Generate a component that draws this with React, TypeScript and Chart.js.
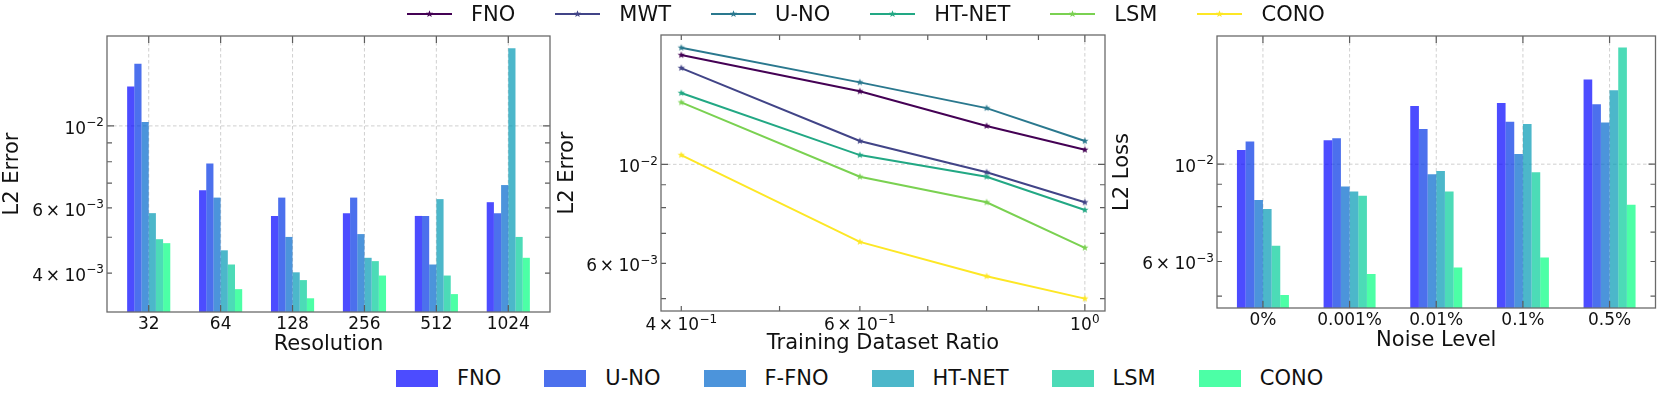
import React, { useEffect, useRef } from 'react';
import { Chart, registerables } from 'chart.js';
Chart.register(...registerables);

// ---------- data ----------
const resolutions = ['32', '64', '128', '256', '512', '1024'];
const barModels = ['FNO', 'U-NO', 'F-FNO', 'HT-NET', 'LSM', 'CONO'];
const resFNO = [0.01277, 0.0067, 0.00571, 0.00581, 0.00571, 0.00622];
const resUNO = [0.01472, 0.00791, 0.0064, 0.0064, 0.00571, 0.00581];
const resFFNO = [0.01025, 0.0064, 0.00501, 0.0051, 0.00422, 0.00692];
const resHTNET = [0.00581, 0.00461, 0.00402, 0.0044, 0.00634, 0.01622];
const resLSM = [0.00494, 0.00422, 0.00383, 0.00431, 0.00394, 0.00501];
const resCONO = [0.00482, 0.00362, 0.00342, 0.00394, 0.00351, 0.0044];

const ratios = [0.4, 0.6, 0.8, 1.0];
const lineModels = ['FNO', 'MWT', 'U-NO', 'HT-NET', 'LSM', 'CONO'];
const ratioFNO = [0.01758, 0.01458, 0.01219, 0.01078];
const ratioMWT = [0.01644, 0.01128, 0.0096, 0.00822];
const ratioUNO = [0.01826, 0.01527, 0.01337, 0.01128];
const ratioHTNET = [0.01445, 0.01049, 0.00938, 0.0079];
const ratioLSM = [0.01377, 0.00938, 0.00822, 0.0065];
const ratioCONO = [0.01049, 0.0067, 0.00561, 0.005];

const noiseLevels = ['0%', '0.001%', '0.01%', '0.1%', '0.5%'];
const noiseFNO = [0.01078, 0.01134, 0.01358, 0.01379, 0.01559];
const noiseUNO = [0.01126, 0.01146, 0.01203, 0.0125, 0.0137];
const noiseFFNO = [0.00829, 0.00889, 0.00949, 0.01055, 0.01244];
const noiseHTNET = [0.0079, 0.00866, 0.00965, 0.01235, 0.01475];
const noiseLSM = [0.00652, 0.00847, 0.00866, 0.00959, 0.01844];
const noiseCONO = [0.00503, 0.00562, 0.00581, 0.00613, 0.00808];

// tick values / labels ("^" marks a superscript exponent)
const resYTicks = [0.004, 0.005, 0.006, 0.007, 0.008, 0.009, 0.01];
const resYLabels = ['4×10^−3', '', '6×10^−3', '', '', '', '10^−2'];
const ratioYTicks = [0.005, 0.006, 0.007, 0.008, 0.009, 0.01];
const ratioYLabels = ['', '6×10^−3', '', '', '', '10^−2'];
const ratioXTicks = [0.4, 0.5, 0.6, 0.7, 0.8, 0.9, 1.0];
const ratioXLabels = ['4×10^−1', '', '6×10^−1', '', '', '', '10^0'];
const noiseYTicks = [0.005, 0.006, 0.007, 0.008, 0.009, 0.01];
const noiseYLabels = ['', '6×10^−3', '', '', '', '10^−2'];

// ---------- style ----------
const FONT = "'DejaVu Sans', sans-serif";
const TXT = '#111';
const MAIN_PX = 17;
const SUP_PX = 12;
const SUP_RISE = 7.3;
const viridis = ['#440154', '#414487', '#2a788e', '#22a884', '#7ad151', '#fde725'];
const winter = [
  'rgba(0,0,255,0.7)',
  'rgba(0,51,230,0.7)',
  'rgba(0,102,204,0.7)',
  'rgba(0,153,179,0.7)',
  'rgba(0,204,153,0.7)',
  'rgba(0,255,128,0.7)',
];

function makeStar(color: string, r = 3.8) {
  const size = Math.ceil(r * 2 + 2);
  const c = document.createElement('canvas');
  c.width = size;
  c.height = size;
  const g = c.getContext('2d')!;
  g.fillStyle = color;
  g.beginPath();
  for (let i = 0; i < 10; i++) {
    const ang = -Math.PI / 2 + (i * Math.PI) / 5;
    const rr = i % 2 === 0 ? r : r * 0.42;
    const px = size / 2 + rr * Math.cos(ang);
    const py = size / 2 + rr * Math.sin(ang);
    if (i === 0) g.moveTo(px, py);
    else g.lineTo(px, py);
  }
  g.closePath();
  g.fill();
  return c;
}

type Piece = { t: string; f: number; dy: number; gap: number; w: number };

function labelPieces(ctx: CanvasRenderingContext2D, label: string): Piece[] {
  const [base, sup] = label.split('^');
  const pieces: Piece[] = [];
  if (base.includes('×')) {
    const [m, b] = base.split('×');
    pieces.push({ t: m, f: MAIN_PX, dy: 0, gap: 2.5, w: 0 });
    pieces.push({ t: '×', f: MAIN_PX, dy: 0, gap: 4.5, w: 0 });
    pieces.push({ t: b, f: MAIN_PX, dy: 0, gap: 0.3, w: 0 });
  } else {
    pieces.push({ t: base, f: MAIN_PX, dy: 0, gap: 0.3, w: 0 });
  }
  if (sup !== undefined) pieces.push({ t: sup, f: SUP_PX, dy: -SUP_RISE, gap: 0, w: 0 });
  pieces[pieces.length - 1].gap = 0;
  for (const p of pieces) {
    ctx.font = `${p.f}px ${FONT}`;
    p.w = ctx.measureText(p.t).width;
  }
  return pieces;
}

function drawLabel(ctx: CanvasRenderingContext2D, label: string, x: number, baseline: number, align: 'right' | 'center') {
  if (!label) return;
  const pieces = labelPieces(ctx, label);
  const total = pieces.reduce((s, p) => s + p.w + p.gap, 0);
  let cx = align === 'right' ? x - total : x - total / 2;
  ctx.textAlign = 'left';
  ctx.textBaseline = 'alphabetic';
  ctx.fillStyle = TXT;
  for (const p of pieces) {
    ctx.font = `${p.f}px ${FONT}`;
    ctx.fillText(p.t, cx, baseline + p.dy);
    cx += p.w + p.gap;
  }
}

const axesDecor = {
  id: 'axesDecor',
  beforeDatasetsDraw(chart: any, _a: any, o: any) {
    const { ctx, chartArea: a, scales } = chart;
    const x = scales.x;
    const y = scales.y;
    ctx.save();
    ctx.strokeStyle = 'rgba(185,185,185,0.75)';
    ctx.lineWidth = 0.9;
    ctx.setLineDash([3.5, 2.5]);
    ctx.beginPath();
    for (const v of o.gridX) {
      const p = x.getPixelForValue(v);
      ctx.moveTo(p, a.top);
      ctx.lineTo(p, a.bottom);
    }
    for (const v of o.gridY) {
      const p = y.getPixelForValue(v);
      ctx.moveTo(a.left, p);
      ctx.lineTo(a.right, p);
    }
    ctx.stroke();
    ctx.restore();
  },
  afterDatasetsDraw(chart: any, _a: any, o: any) {
    const { ctx, chartArea: a, scales } = chart;
    const x = scales.x;
    const y = scales.y;
    ctx.save();
    ctx.strokeStyle = '#5c5c5c';
    ctx.lineWidth = 1.2;
    ctx.beginPath();
    const xt = (vals: number[], len: number) => {
      for (const v of vals) {
        const p = x.getPixelForValue(v);
        ctx.moveTo(p, a.bottom);
        ctx.lineTo(p, a.bottom - len);
        ctx.moveTo(p, a.top);
        ctx.lineTo(p, a.top + len);
      }
    };
    const yt = (vals: number[], len: number) => {
      for (const v of vals) {
        const p = y.getPixelForValue(v);
        ctx.moveTo(a.left, p);
        ctx.lineTo(a.left + len, p);
        ctx.moveTo(a.right, p);
        ctx.lineTo(a.right - len, p);
      }
    };
    xt(o.xMajor, 7);
    xt(o.xMinor, 5);
    yt(o.yMajor, 7);
    yt(o.yMinor, 5);
    ctx.stroke();
    ctx.strokeStyle = '#6a6a6a';
    ctx.lineWidth = 1.3;
    ctx.strokeRect(a.left, a.top, a.right - a.left, a.bottom - a.top);

    // tick labels
    o.xTickVals.forEach((v: number, i: number) => {
      const lab: string = o.xTickLabels[i];
      const hasSup = lab.includes('^');
      drawLabel(ctx, lab, x.getPixelForValue(v), a.bottom + (hasSup ? 19 : 16.6), 'center');
    });
    o.yTickVals.forEach((v: number, i: number) => {
      drawLabel(ctx, o.yTickLabels[i], a.left - 3, y.getPixelForValue(v) + 7.6, 'right');
    });
    ctx.restore();
  },
};

function yScale(min: number, max: number, title: string, width: number) {
  return {
    type: 'logarithmic',
    min,
    max,
    bounds: 'data',
    afterFit: (s: any) => {
      s.width = width;
    },
    grid: { display: false, drawTicks: false },
    border: { display: false },
    ticks: { display: false },
    title: {
      display: true,
      text: title,
      color: TXT,
      font: { family: FONT, size: 21 },
      padding: { top: 0, bottom: 0 },
    },
  };
}

function xTitle(text: string) {
  return {
    display: true,
    text,
    color: TXT,
    font: { family: FONT, size: 21 },
    padding: { top: 0, bottom: 4.4 },
  };
}

function barConfig(
  labels: string[],
  series: number[][],
  yMin: number,
  yMax: number,
  yTicks: number[],
  yLabels: string[],
  xt: string,
  yt: string,
  yW: number,
  padRight: number
) {
  const lo = -0.3;
  const hi = labels.length - 1 + 0.3;
  const m = 0.05 * (hi - lo);
  const idx = labels.map((_, i) => i);
  return {
    type: 'bar',
    data: {
      datasets: barModels.map((name, i) => ({
        label: name,
        data: series[i].map((v, j) => ({ x: j, y: v })),
        backgroundColor: winter[i],
        borderWidth: 0,
        categoryPercentage: 0.6,
        barPercentage: 1.0,
      })),
    },
    options: {
      responsive: false,
      animation: false,
      events: [],
      layout: { padding: { left: 0, top: 16, right: padRight, bottom: 0 } },
      plugins: {
        legend: { display: false },
        tooltip: { enabled: false },
        axesDecor: {
          gridX: idx,
          gridY: [0.01],
          xMajor: idx,
          xMinor: [],
          yMajor: [0.01],
          yMinor: yTicks.filter((v) => v !== 0.01),
          xTickVals: idx,
          xTickLabels: labels,
          yTickVals: yTicks,
          yTickLabels: yLabels,
        },
      },
      scales: {
        x: {
          type: 'linear',
          min: lo - m,
          max: hi + m,
          bounds: 'data',
          offset: false,
          afterFit: (s: any) => {
            s.height = 50;
          },
          afterBuildTicks: (s: any) => {
            s.ticks = idx.map((v) => ({ value: v }));
          },
          grid: { display: false, drawTicks: false },
          border: { display: false },
          ticks: { display: false, autoSkip: false },
          title: xTitle(xt),
        },
        y: yScale(yMin, yMax, yt, yW),
      },
    },
    plugins: [axesDecor],
  };
}

function lineConfig() {
  const series = [ratioFNO, ratioMWT, ratioUNO, ratioHTNET, ratioLSM, ratioCONO];
  return {
    type: 'line',
    data: {
      datasets: lineModels.map((name, i) => ({
        label: name,
        data: ratios.map((r, j) => ({ x: r, y: series[i][j] })),
        borderColor: viridis[i],
        backgroundColor: viridis[i],
        borderWidth: 2,
        pointStyle: makeStar(viridis[i]),
        pointRadius: 4,
        tension: 0,
        fill: false,
        order: 5 - i,
      })),
    },
    options: {
      responsive: false,
      animation: false,
      events: [],
      layout: { padding: { left: 0, top: 16, right: 10, bottom: 0 } },
      plugins: {
        legend: { display: false },
        tooltip: { enabled: false },
        axesDecor: {
          gridX: [1.0],
          gridY: [0.01],
          xMajor: [1.0],
          xMinor: ratioXTicks.filter((v) => v !== 1.0),
          yMajor: [0.01],
          yMinor: ratioYTicks.filter((v) => v !== 0.01),
          xTickVals: ratioXTicks,
          xTickLabels: ratioXLabels,
          yTickVals: ratioYTicks,
          yTickLabels: ratioYLabels,
        },
      },
      scales: {
        x: {
          type: 'logarithmic',
          min: 0.382,
          max: 1.0468,
          bounds: 'data',
          afterFit: (s: any) => {
            s.height = 50;
          },
          grid: { display: false, drawTicks: false },
          border: { display: false },
          ticks: { display: false },
          title: xTitle('Training Dataset Ratio'),
        },
        y: yScale(0.00469, 0.0195, 'L2 Error', 106),
      },
    },
    plugins: [axesDecor],
  };
}

function StarSvg({ color }: { color: string }) {
  const r = 3.8;
  const pts: string[] = [];
  for (let i = 0; i < 10; i++) {
    const ang = -Math.PI / 2 + (i * Math.PI) / 5;
    const rr = i % 2 === 0 ? r : r * 0.42;
    pts.push(`${(22.5 + rr * Math.cos(ang)).toFixed(2)},${(7 + rr * Math.sin(ang)).toFixed(2)}`);
  }
  return (
    <svg width={45} height={14} style={{ display: 'block' }}>
      <line x1={0} y1={7} x2={45} y2={7} stroke={color} strokeWidth={2} />
      <polygon points={pts.join(' ')} fill={color} />
    </svg>
  );
}

export default function App() {
  const c1 = useRef<HTMLCanvasElement>(null);
  const c2 = useRef<HTMLCanvasElement>(null);
  const c3 = useRef<HTMLCanvasElement>(null);

  useEffect(() => {
    Chart.defaults.font.family = FONT;
    const ch1 = new Chart(
      c1.current!,
      barConfig(
        resolutions,
        [resFNO, resUNO, resFFNO, resHTNET, resLSM, resCONO],
        0.00314,
        0.0175,
        resYTicks,
        resYLabels,
        'Resolution',
        'L2 Error',
        107,
        10
      ) as any
    );
    const ch2 = new Chart(c2.current!, lineConfig() as any);
    const ch3 = new Chart(
      c3.current!,
      barConfig(
        noiseLevels,
        [noiseFNO, noiseUNO, noiseFFNO, noiseHTNET, noiseLSM, noiseCONO],
        0.0047,
        0.0196,
        noiseYTicks,
        noiseYLabels,
        'Noise Level',
        'L2 Loss',
        107,
        5.5
      ) as any
    );
    return () => {
      ch1.destroy();
      ch2.destroy();
      ch3.destroy();
    };
  }, []);

  const canvasStyle = (left: number, top: number, w: number, h: number): React.CSSProperties => ({
    position: 'absolute',
    left,
    top,
    width: w,
    height: h,
  });

  return (
    <div
      style={{
        position: 'absolute',
        left: 0,
        top: 0,
        width: 1661,
        height: 394,
        background: '#fff',
        fontFamily: FONT,
        overflow: 'hidden',
      }}
    >
      <canvas ref={c1} width={560} height={342} style={canvasStyle(0, 20, 560, 342)} />
      <canvas ref={c2} width={560} height={342} style={canvasStyle(555, 19, 560, 342)} />
      <canvas ref={c3} width={551} height={338} style={canvasStyle(1110, 20, 551, 338)} />

      <div
        style={{
          position: 'absolute',
          left: 407,
          top: 0,
          height: 28,
          display: 'flex',
          alignItems: 'center',
          columnGap: 40,
          fontSize: 21,
          color: TXT,
          whiteSpace: 'nowrap',
        }}
      >
        {lineModels.map((n, i) => (
          <div key={n} style={{ display: 'flex', alignItems: 'center' }}>
            <StarSvg color={viridis[i]} />
            <span style={{ marginLeft: 19, lineHeight: '28px' }}>{n}</span>
          </div>
        ))}
      </div>

      <div
        style={{
          position: 'absolute',
          left: 396,
          top: 364,
          height: 28,
          display: 'flex',
          alignItems: 'center',
          columnGap: 43,
          fontSize: 21,
          color: TXT,
          whiteSpace: 'nowrap',
        }}
      >
        {barModels.map((n, i) => (
          <div key={n} style={{ display: 'flex', alignItems: 'center' }}>
            <div style={{ width: 42, height: 17, background: winter[i] }} />
            <span style={{ marginLeft: 19, lineHeight: '28px' }}>{n}</span>
          </div>
        ))}
      </div>
    </div>
  );
}
